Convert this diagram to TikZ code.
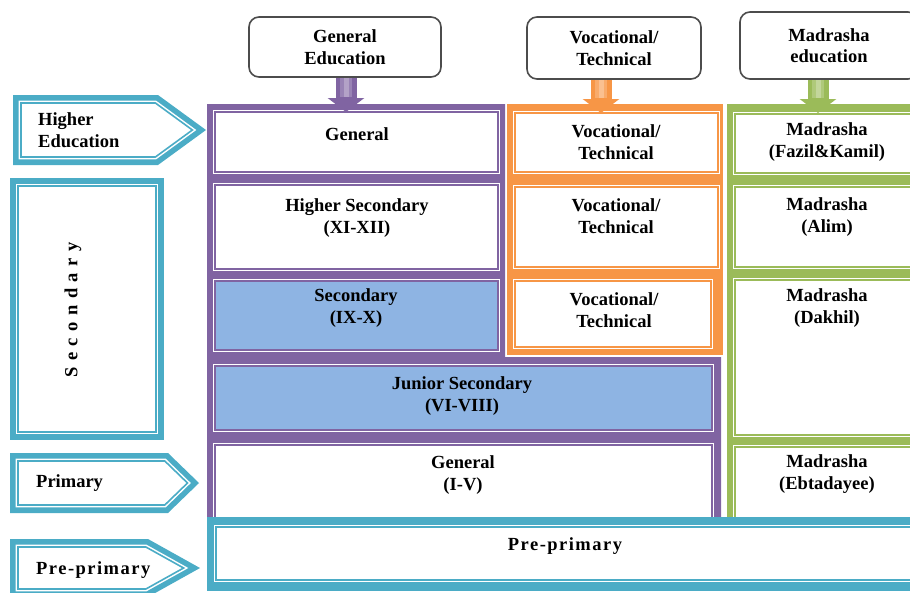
\documentclass[tikz,border=0pt]{standalone}
\usepackage{fontspec}
\setmainfont{Liberation Serif}
\usetikzlibrary{arrows.meta}
\definecolor{tealc}{RGB}{75,172,198}
\definecolor{purplec}{RGB}{128,100,162}
\definecolor{orangec}{RGB}{247,150,70}
\definecolor{greenc}{RGB}{155,187,89}
\definecolor{bluec}{RGB}{142,180,227}

\begin{document}
\begin{tikzpicture}[x=1pt, y=-1pt,
  lbl/.style={font=\bfseries\fontsize{18.5}{21.5}\selectfont, align=center, inner sep=0pt},
  head/.style={lbl, draw=black!70, line width=1.6pt, rounded corners=10pt, fill=white},
  cell/.style={preaction={draw=white, line width=4.6pt}, draw=#1, line width=1.6pt, fill=white},
  conn/.style={draw=#1, line width=21pt, -{Triangle[width=36pt, length=14pt]},
    postaction={draw=#1!80!white, line width=12pt, -, shorten >=15pt},
    postaction={draw=#1!60!white, line width=5pt, -, shorten >=15pt}}]
\useasboundingbox (0,0) rectangle (910,592);
\clip (0,0) rectangle (910,592);

% column frames
\fill[purplec] (207,104) -- (505,104) -- (505,357) -- (721,357) -- (721,517) -- (207,517) -- cycle;
\fill[orangec] (507,104) rectangle (723,355);
\fill[greenc] (727,104) rectangle (915,517);

% general education cells
\draw[cell=purplec] (215,112) rectangle (498,172);
\draw[cell=purplec] (215,185) rectangle (498,269);
\draw[cell=purplec, fill=bluec] (215,281) rectangle (498,350);
\draw[cell=purplec, fill=bluec] (215,366) rectangle (712,430);
\draw[cell=purplec] (215,445) rectangle (712,525);

% vocational cells
\draw[cell=orangec] (515,113) rectangle (718,172);
\draw[cell=orangec] (515,187) rectangle (718,267);
\draw[cell=orangec] (515,281) rectangle (711,347);

% madrasha cells
\draw[cell=greenc] (735,114) rectangle (920,173);
\draw[cell=greenc] (735,187) rectangle (920,267);
\draw[cell=greenc] (735,280) rectangle (920,435);
\draw[cell=greenc] (735,447) rectangle (920,525);

% pre-primary band
\fill[tealc] (207,517) rectangle (915,591);
\draw[cell=tealc] (216,527) rectangle (920,580);

% level tags on the left
\fill[tealc] (13,95) -- (158,95) -- (206,130) -- (158,165) -- (13,165) -- cycle;
\draw[cell=tealc] (21,103) -- (155.4,103) -- (192.4,130) -- (155.4,157) -- (21,157) -- cycle;
\fill[tealc] (10,178) rectangle (164,440);
\draw[cell=tealc] (18,186) rectangle (156,432);
\fill[tealc] (10,453) -- (168,453) -- (199,483) -- (168,513) -- (10,513) -- cycle;
\draw[cell=tealc] (18,461) -- (164.8,461) -- (187.5,483) -- (164.8,505) -- (18,505) -- cycle;
\fill[tealc] (10,539) -- (148,539) -- (200,568) -- (148,597) -- (10,597) -- cycle;
\draw[cell=tealc] (18,547) -- (145.9,547) -- (183.6,568) -- (145.9,589) -- (18,589) -- cycle;

% stream headings
\node[head, minimum width=192pt, minimum height=60pt] (genHead) at (345,47) {General\\Education};
\node[head, minimum width=174pt, minimum height=62pt] (vocHead) at (614,48) {Vocational/\\Technical};
\node[head, minimum width=178pt, minimum height=67pt] (madHead) at (829,45.5) {Madrasha\\education};

\coordinate (genTip) at (346,112);
\coordinate (vocTip) at (601,113);
\coordinate (madTip) at (818,113);
\draw[conn=purplec] (genHead.south -| genTip) -- (genTip);
\draw[conn=orangec] (vocHead.south -| vocTip) -- (vocTip);
\draw[conn=greenc] (madHead.south -| madTip) -- (madTip);

% cell texts
\node[lbl] (genHi) at (357,134) {General};
\node[lbl] (hsec) at (357,218) {Higher Secondary\\(XI-XII)};
\node[lbl] (sec) at (356,308) {Secondary\\(IX-X)};
\node[lbl] (jsec) at (462,396) {Junior Secondary\\(VI-VIII)};
\node[lbl] (prim) at (463,475) {General\\(I-V)};
\node[lbl] (voc1) at (616,142) {Vocational/\\Technical};
\node[lbl] (voc2) at (616,216) {Vocational/\\Technical};
\node[lbl] (voc3) at (614,310) {Vocational/\\Technical};
\node[lbl] (fazil) at (827,142) {Madrasha\\(Fazil\&Kamil)};
\node[lbl] (alim) at (827,217) {Madrasha\\(Alim)};
\node[lbl] (dakhil) at (827,308) {Madrasha\\(Dakhil)};
\node[lbl] (ebta) at (827,474) {Madrasha\\(Ebtadayee)};
\node[lbl] (preT) at (565,546) {\addfontfeature{LetterSpace=8}Pre-primary};

% tag texts
\node[lbl, anchor=west, align=left] (higherT) at (38,130) {Higher\\Education};
\node[lbl, rotate=90] (secondT) at (73,310) {\addfontfeature{LetterSpace=35}Secondary};
\node[lbl, anchor=west] (primT) at (36,483) {Primary};
\node[lbl, anchor=west] (prepT) at (36,570) {\addfontfeature{LetterSpace=8}Pre-primary};
\end{tikzpicture}
\end{document}
